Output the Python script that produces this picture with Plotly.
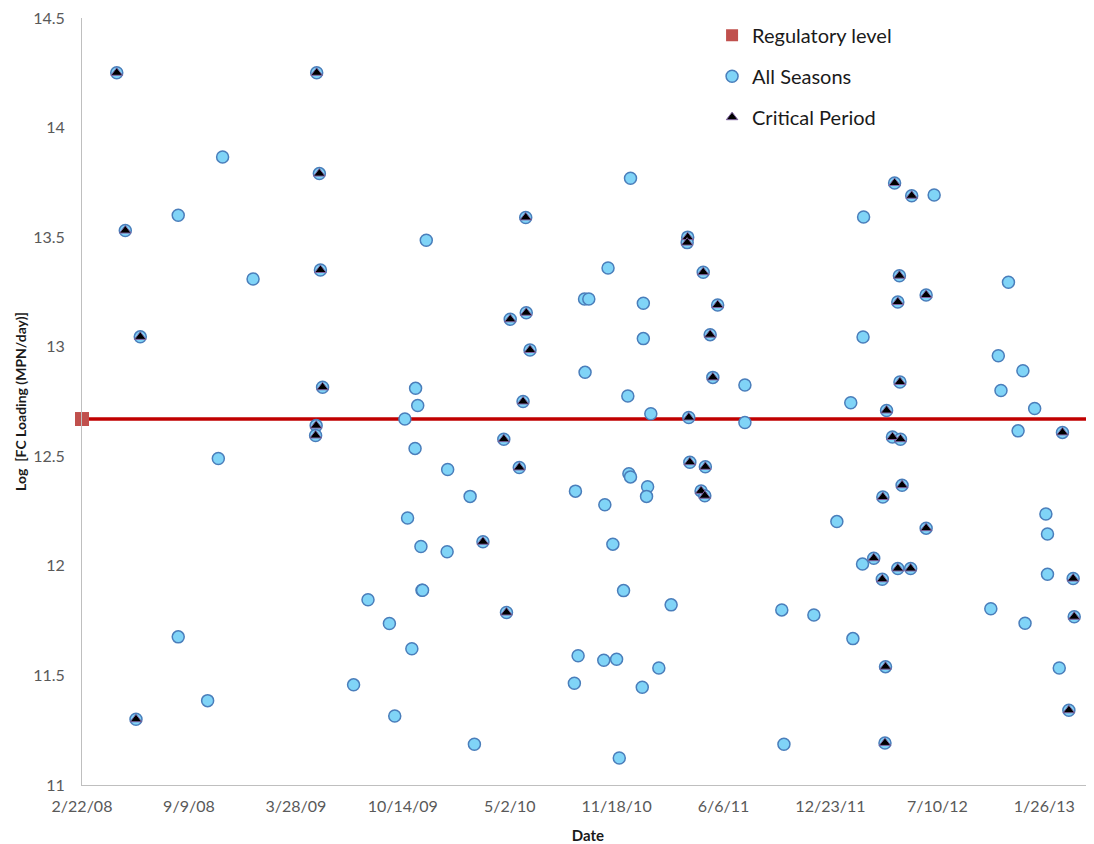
import pandas as pd
import plotly.graph_objects as go

# Dates are Excel serial day numbers (origin 1899-12-30)
EXCEL_ORIGIN = "1899-12-30"

# Critical Period samples (also part of All Seasons)
crit_serial = [39565, 39581, 39609, 39601, 39939, 39944, 39946, 39950, 39938, 39937,
               40330, 40633, 40632, 40662, 40689, 40331, 40301, 40675, 40338, 40680,
               40325, 40635, 40289, 40318, 40637, 40666, 40658, 40665, 40250, 40294,
               41020, 41052, 41029, 41079, 41026, 41030, 41005, 41016, 41031, 41334,
               41034, 40998, 41079, 40981, 41026, 41050, 40997, 41354, 41356, 41003,
               41346, 41002]
crit_value = [14.25, 13.53, 13.045, 11.30, 14.25, 13.79, 13.35, 12.815, 12.64, 12.595,
              13.59, 13.50, 13.475, 13.34, 13.19, 13.155, 13.125, 13.055, 12.985, 12.86,
              12.75, 12.677, 12.578, 12.449, 12.473, 12.452, 12.342, 12.32, 12.11, 11.787,
              13.747, 13.689, 13.324, 13.236, 13.204, 12.839, 12.709, 12.588, 12.578, 12.609,
              12.368, 12.314, 12.172, 12.035, 11.988, 11.988, 11.939, 11.942, 11.768, 11.54,
              11.341, 11.192]

# Remaining All Seasons samples (outside critical period)
other_serial = [39680, 39763, 39820, 39755, 39680, 39735, 40008, 40035,
                40526, 40144, 40484, 40440, 40448, 40550, 40550, 40441, 40124, 40521,
                40128, 40564, 40104, 40123, 40184, 40226, 40423, 40478, 40523, 40526,
                40558, 40556, 40109, 40134, 40183, 40493, 40136, 40137, 40513, 40602,
                40075, 40117, 40428, 40476, 40500, 40579, 40421, 40548, 40085, 40234,
                40505, 40962, 41094, 41233, 40961, 41214, 41260, 41219, 40740, 41282,
                40938, 40740, 41251, 40912, 41303, 41306, 40960, 41306, 40809, 40869,
                41200, 41264, 40942, 41328, 40813]
other_value = [13.60, 13.866, 13.309, 12.49, 11.676, 11.385, 11.457, 11.845,
               13.769, 13.486, 13.359, 13.218, 13.218, 13.198, 13.037, 12.883, 12.81, 12.775,
               12.732, 12.694, 12.67, 12.536, 12.44, 12.317, 12.341, 12.279, 12.42, 12.406,
               12.361, 12.317, 12.218, 12.088, 12.064, 12.099, 11.889, 11.889, 11.887, 11.822,
               11.737, 11.622, 11.59, 11.569, 11.574, 11.534, 11.464, 11.446, 11.315, 11.186,
               11.123, 13.592, 13.692, 13.294, 13.044, 12.959, 12.89, 12.80, 12.825, 12.718,
               12.744, 12.654, 12.616, 12.202, 12.237, 12.145, 12.008, 11.962, 11.799, 11.776,
               11.804, 11.738, 11.668, 11.534, 11.186]

# Regulatory level
reg_serial = [39500, 41392]
reg_value = [12.67, 12.67]

# Axis
x_range_serial = [39500, 41393]
x_tick_serial = [39500, 39700, 39900, 40100, 40300, 40500, 40700, 40900, 41100, 41300]
x_tick_labels = ["2/22/08", "9/9/08", "3/28/09", "10/14/09", "5/2/10",
                 "11/18/10", "6/6/11", "12/23/11", "7/10/12", "1/26/13"]
y_range = [11, 14.5]


def to_date(serials):
    return pd.to_datetime(pd.Series(serials), unit="D", origin=EXCEL_ORIGIN)


all_serial = other_serial + crit_serial
all_value = other_value + crit_value

FONT = "Lato, Calibri, Carlito, sans-serif"

fig = go.Figure()

# Regulatory level line (drawn first, behind)
fig.add_trace(go.Scatter(
    x=to_date(reg_serial), y=reg_value, mode="lines+markers",
    line=dict(color="#c00000", width=3.5),
    marker=dict(symbol="square", size=14, color="#c0504d", line=dict(width=0)),
    cliponaxis=False, showlegend=False, hoverinfo="skip"))
# legend entry for regulatory level (square only)
fig.add_trace(go.Scatter(
    x=[None], y=[None], mode="markers", name="Regulatory level",
    marker=dict(symbol="square", size=12, color="#c0504d"),
    legendgroup="g1"))

fig.add_trace(go.Scatter(
    x=to_date(all_serial), y=all_value, mode="markers", name="All Seasons",
    marker=dict(symbol="circle", size=12, color="#80d4f7",
                line=dict(color="#4a7ebb", width=1.5)),
    cliponaxis=False, legendgroup="g2"))

fig.add_trace(go.Scatter(
    x=to_date(crit_serial), y=crit_value, mode="markers", name="Critical Period",
    marker=dict(symbol="triangle-up", size=10, color="#000000",
                line=dict(color="#8064a2", width=1)),
    cliponaxis=False, legendgroup="g3"))

xr = to_date(x_range_serial)
fig.update_layout(
    width=1094, height=836,
    margin=dict(l=74, r=8, t=10, b=59, autoexpand=False),
    paper_bgcolor="white", plot_bgcolor="white",
    font=dict(family=FONT, color="#595959"),
    showlegend=True,
    legend=dict(x=0.6226, y=1.003, xanchor="left", yanchor="top",
                font=dict(family=FONT, size=20, color="#1a1a1a"),
                traceorder="grouped", tracegroupgap=12,
                bgcolor="rgba(0,0,0,0)", itemwidth=30),
    xaxis=dict(
        type="date", range=[xr[0], xr[1]], automargin=False,
        tickvals=to_date(x_tick_serial), ticktext=x_tick_labels,
        showgrid=False, zeroline=False,
        showline=True, linecolor="#bfbfbf", linewidth=1,
        ticks="", ticklabelstandoff=7, ticklabeloverflow="allow",
        tickfont=dict(family=FONT, size=16, color="#595959"),
        title=dict(text="<b>Date</b>", font=dict(family=FONT, size=15, color="#1a1a1a"),
                   standoff=16),
    ),
    yaxis=dict(
        range=y_range, dtick=0.5, tick0=11, automargin=False,
        showgrid=False, zeroline=False,
        showline=True, linecolor="#bfbfbf", linewidth=1,
        ticks="", ticklabelstandoff=13, ticklabeloverflow="allow",
        tickfont=dict(family=FONT, size=16, color="#595959"),
        title=dict(text="<b>Log  [FC Loading (MPN/day)]</b>",
                   font=dict(family=FONT, size=14, color="#1a1a1a"), standoff=3),
    ),
)

fig.write_html("out.html")
